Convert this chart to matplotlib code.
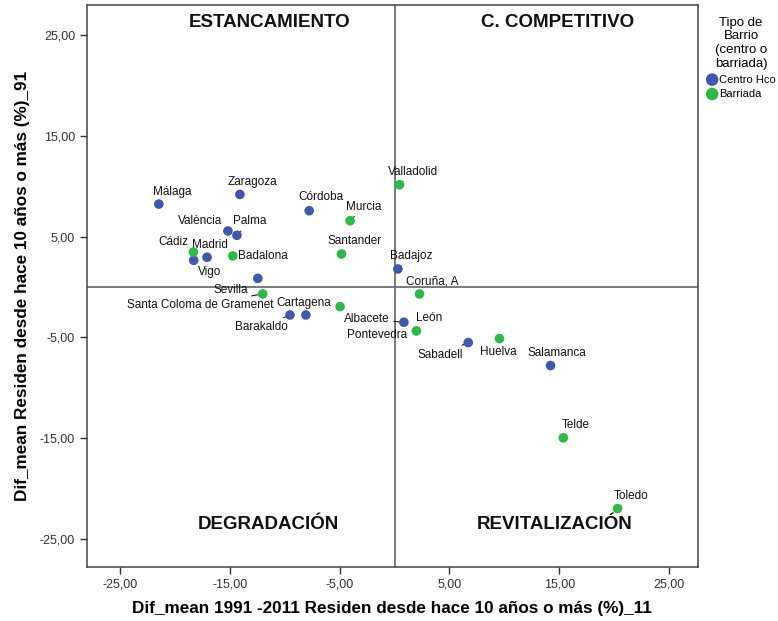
import matplotlib
matplotlib.use("Agg")
import matplotlib.pyplot as plt

plt.rcParams['font.family'] = ['Liberation Sans', 'DejaVu Sans']

# barrios tipo "Centro Hco" (x = dif. 2011, y = dif. 1991)
centro_nombres = ["Málaga", "Zaragoza", "València", "Palma", "Vigo", "Madrid",
                  "Sevilla", "Barakaldo", "Cartagena", "Córdoba", "Badajoz",
                  "Albacete", "Sabadell", "Salamanca"]
centro_x = [-21.46, -14.08, -15.17, -14.35, -18.28, -17.07, -12.45, -9.52,
            -8.07, -7.77, 0.30, 0.85, 6.71, 14.20]
centro_y = [8.23, 9.19, 5.56, 5.13, 2.65, 2.95, 0.86, -2.78, -2.78, 7.57,
            1.79, -3.50, -5.52, -7.80]

# barrios tipo "Barriada"
barriada_nombres = ["Cádiz", "Badalona", "Santa Coloma de Gramenet", "Pontevedra",
                    "Murcia", "Santander", "Valladolid", "Coruña, A", "León",
                    "Huelva", "Telde", "Toledo"]
barriada_x = [-18.31, -14.72, -12.00, -4.96, -4.05, -4.83, 0.45, 2.27, 1.99,
              9.55, 15.36, 20.30]
barriada_y = [3.47, 3.08, -0.69, -1.95, 6.58, 3.27, 10.15, -0.69, -4.37,
              -5.13, -14.98, -22.00]

ticks = [-25, -15, -5, 5, 15, 25]
cuadrantes = ["ESTANCAMIENTO", "C. COMPETITIVO", "DEGRADACIÓN", "REVITALIZACIÓN"]

# desplazamiento de cada etiqueta (pixeles, y hacia arriba)
offs = {
    "Málaga": (13, 12), "Zaragoza": (13, 12), "València": (-28, 10),
    "Palma": (13, 14), "Vigo": (16, -12), "Madrid": (3, 12),
    "Sevilla": (-27, -12), "Barakaldo": (-29, -12), "Cartagena": (-2, 12),
    "Córdoba": (12, 14), "Badajoz": (13, 13), "Albacete": (-37, 3),
    "Sabadell": (-28, -12), "Salamanca": (6, 13),
    "Cádiz": (-20, 10), "Badalona": (30, 0), "Santa Coloma de Gramenet": (-62, -11),
    "Pontevedra": (37, -28), "Murcia": (14, 14), "Santander": (13, 13),
    "Valladolid": (14, 13), "Coruña, A": (13, 12), "León": (13, 13),
    "Huelva": (-1, -13), "Telde": (13, 13), "Toledo": (14, 13),
}
sin_linea = {"Pontevedra", "Cartagena", "Huelva", "Badalona", "Cádiz", "València",
             "Córdoba", "Zaragoza", "Sevilla", "Vigo"}

azul = "#3e58ac"
verde = "#2eb848"

fig = plt.figure(figsize=(7.78, 6.21), dpi=100)
ax = fig.add_axes([0.1118, 0.087, 0.785, 0.905])

ax.axvline(0, color="#707070", lw=1.3, zorder=1)
ax.axhline(0, color="#707070", lw=1.3, zorder=1)

ax.scatter(centro_x, centro_y, s=48, color=azul, edgecolors="none", zorder=3,
           label="Centro Hco")
ax.scatter(barriada_x, barriada_y, s=48, color=verde, edgecolors="none", zorder=3,
           label="Barriada")

for nombres, xs, ys in [(centro_nombres, centro_x, centro_y),
                        (barriada_nombres, barriada_x, barriada_y)]:
    for n, x, y in zip(nombres, xs, ys):
        dx, dy = offs[n]
        ap = None
        if n not in sin_linea:
            ap = dict(arrowstyle="-", color="#222222", lw=0.8, shrinkA=1, shrinkB=3)
        ax.annotate(n, (x, y), xytext=(dx, dy), textcoords="offset pixels",
                    ha="center", va="center", fontsize=8.5, color="#111111",
                    arrowprops=ap, zorder=2)

kw = dict(fontsize=13.5, fontweight="bold", ha="center", va="center", color="#111111")
ax.text(-11.4, 26.3, cuadrantes[0], **kw)
ax.text(14.8, 26.3, cuadrantes[1], **kw)
ax.text(-11.5, -23.6, cuadrantes[2], **kw)
ax.text(14.6, -23.6, cuadrantes[3], **kw)

ax.set_xlim(-28.0, 27.6)
ax.set_ylim(-27.8, 28.0)
ax.set_xticks(ticks)
ax.set_yticks(ticks)
ax.set_xticklabels(["%d,00" % t for t in ticks])
ax.set_yticklabels(["%d,00" % t for t in ticks])
ax.tick_params(labelsize=9, colors="#333333", length=5, width=1, direction="out")
for s in ax.spines.values():
    s.set_color("#444444")
    s.set_linewidth(1.1)

ax.set_xlabel("Dif_mean 1991 -2011 Residen desde hace 10 años o más (%)_11",
              fontsize=12.3, fontweight="bold", labelpad=7)
ax.set_ylabel("Dif_mean Residen desde hace 10 años o más (%)_91",
              fontsize=12.3, fontweight="bold", labelpad=7)

leg = ax.legend(title="Tipo de\nBarrio\n(centro o\nbarriada)", loc="upper left",
                bbox_to_anchor=(1.0, 0.995), frameon=False, fontsize=8,
                title_fontsize=9.5, handletextpad=0.1, handlelength=1.0,
                borderpad=0.3, labelspacing=0.4, markerscale=1.3)
leg.get_title().set_multialignment("center")

fig.savefig("out.png", dpi=100)
